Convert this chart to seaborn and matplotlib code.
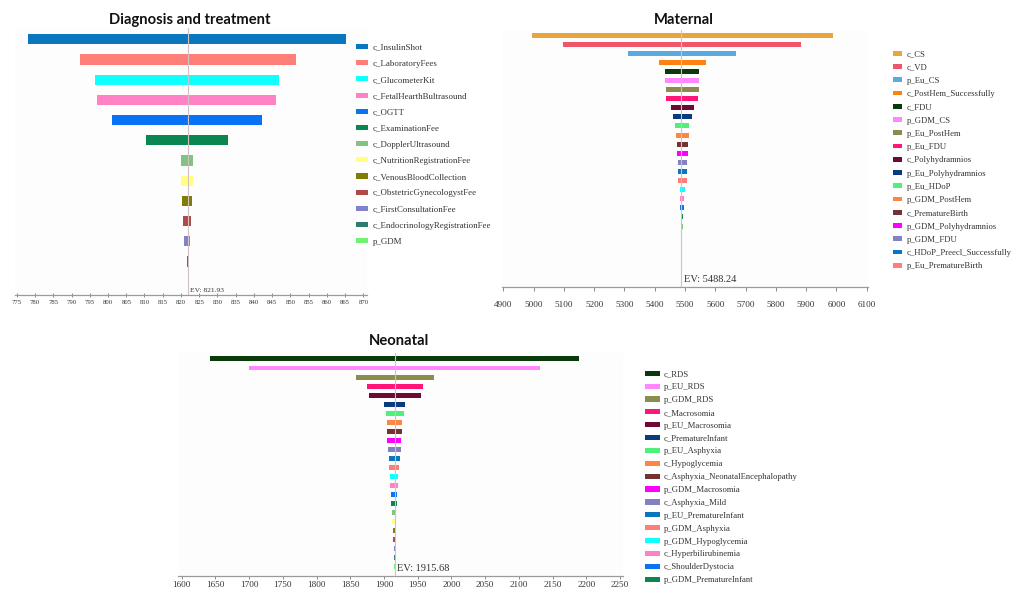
import numpy as np
import pandas as pd
import matplotlib
matplotlib.use("Agg")
import matplotlib.pyplot as plt
from matplotlib.patches import Patch
import seaborn as sns

W, H, DPI = 1027, 590, 100

# Shared tornado colour cycle; each panel starts at its own offset
tornado_colors = [
    "#E9A43C", "#F0566A", "#58AADF", "#FF8210", "#0A3A0A", "#FF88FF",
    "#8C8C4C", "#FF1678", "#6E0A36", "#0A3A80", "#4FF07A", "#FF8642",
    "#743232", "#FF00FF", "#8282C2", "#0A76BE", "#FF7E78", "#10FFFF",
    "#FF82C6", "#0A72F4", "#0A8650", "#82C282", "#FFFF82", "#7E7E06",
    "#B04A4A", "#8282CC", "#2E7A6E", "#72F272",
]

# ---- Diagnosis and treatment ----
dx_names = [
    "c_InsulinShot", "c_LaboratoryFees", "c_GlucometerKit",
    "c_FetalHearthBultrasound", "c_OGTT", "c_ExaminationFee",
    "c_DopplerUltrasound", "c_NutritionRegistrationFee",
    "c_VenousBloodCollection", "c_ObstetricGynecologystFee",
    "c_FirstConsultationFee", "c_EndocrinologyRegistrationFee", "p_GDM",
]
dx_low = [778.2, 792.2, 796.4, 797.1, 801.2, 810.3, 820.0, 820.0, 820.2,
          820.6, 820.8, 821.7, 821.9]
dx_high = [865.2, 851.5, 847.0, 846.0, 842.2, 833.0, 823.2, 823.4, 823.1,
           822.8, 822.6, 822.1, 822.0]
dx_ev = 821.93
dx_ticks = list(range(775, 871, 5))

# ---- Maternal ----
mat_names = [
    "c_CS", "c_VD", "p_Eu_CS", "c_PostHem_Successfully", "c_FDU",
    "p_GDM_CS", "p_Eu_PostHem", "p_Eu_FDU", "c_Polyhydramnios",
    "p_Eu_Polyhydramnios", "p_Eu_HDoP", "p_GDM_PostHem", "c_PrematureBirth",
    "p_GDM_Polyhydramnios", "p_GDM_FDU", "c_HDoP_Preecl_Successfully",
    "p_Eu_PrematureBirth", "p_GDM_PrematureBirth", "c_HDoP", "p_GDM_HDoP",
    "c_PostHem_Unsuccessfully", "c_HDoP_Preecl_Unsuccessfully",
]
mat_low = [4994, 5098, 5313, 5415, 5435, 5435, 5437, 5437, 5453, 5462, 5468,
           5469, 5474, 5475, 5476, 5476, 5477, 5482, 5483, 5485, 5487, 5488]
mat_high = [5988, 5883, 5668, 5568, 5547, 5545, 5545, 5543, 5530, 5522, 5514,
            5513, 5510, 5509, 5508, 5507, 5506, 5500, 5498, 5497, 5494, 5492]
mat_ev = 5488.24
mat_ticks = list(range(4900, 6101, 100))

# ---- Neonatal ----
neo_names = [
    "c_RDS", "p_EU_RDS", "p_GDM_RDS", "c_Macrosomia", "p_EU_Macrosomia",
    "c_PrematureInfant", "p_EU_Asphyxia", "c_Hypoglycemia",
    "c_Asphyxia_NeonatalEncephalopathy", "p_GDM_Macrosomia",
    "c_Asphyxia_Mild", "p_EU_PrematureInfant", "p_GDM_Asphyxia",
    "p_GDM_Hypoglycemia", "c_Hyperbilirubinemia", "c_ShoulderDystocia",
    "p_GDM_PrematureInfant", "p_EU_Hypoglycemia", "p_GDM_Hyperbilirubinemia",
    "p_EU_Hyperbilirubinemia", "p_GDM_ShoulderDystocia",
    "p_EU_ShoulderDystocia", "c_Asphyxia_Severe", "p_GDM",
]
neo_low = [1642, 1700, 1858.5, 1874.3, 1877.3, 1900.4, 1902.5, 1904, 1905,
           1905, 1906, 1907, 1908, 1909, 1909, 1910.5, 1911, 1912, 1912.5,
           1913.5, 1914, 1914.5, 1915, 1915.4]
neo_high = [2189.6, 2131.3, 1974.1, 1958.3, 1955.3, 1931.6, 1929.6, 1927,
            1926, 1925, 1925, 1924, 1922, 1921, 1921, 1919, 1919, 1918, 1918,
            1918.5, 1918, 1917.5, 1916.5, 1916.0]
neo_ev = 1915.68
neo_ticks = list(range(1600, 2251, 50))

sns.set_theme(style="white")
plt.rcParams["font.family"] = ["Liberation Serif", "DejaVu Serif"]

fig = plt.figure(figsize=(W / DPI, H / DPI), dpi=DPI)
fig.patch.set_facecolor("white")


def px_axes(left, top, right, bottom):
    return fig.add_axes([left / W, 1 - bottom / H, (right - left) / W,
                         (bottom - top) / H])


def tornado(ax, names, low, high, colors, ev, xlim, ticks, ylim, bar_h,
            tick_fs, tick_len, tick_pad, tick_dir, ev_fs, ev_off):
    df = pd.DataFrame({"name": names, "low": low, "high": high})
    df["span"] = df["high"] - df["low"]
    # each bar spans low..high: the span is the bar length, low its left edge
    sns.barplot(data=df, x="span", y="name", orient="h", errorbar=None,
                color="#888888", saturation=1,
                left=df["low"].to_numpy(), facecolor=colors,
                edgecolor="none", linewidth=0, width=bar_h, ax=ax)
    ax.axvline(ev, color="#d2c2c2", lw=0.8, zorder=4)
    ax.set_xlim(*xlim)
    ax.set_ylim(*ylim)
    ax.set_xticks(ticks)
    ax.set_xticklabels([str(t) for t in ticks])
    ax.set_xlabel("")
    ax.set_ylabel("")
    ax.set_yticks([])
    ax.tick_params(axis="x", bottom=True, length=tick_len, width=0.7,
                   direction=tick_dir, color="#8a8a8a", pad=tick_pad,
                   labelsize=tick_fs, labelcolor="#333333")
    for s in ("left", "top", "right"):
        ax.spines[s].set_visible(False)
    ax.spines["bottom"].set_color("#9a9a9a")
    ax.spines["bottom"].set_linewidth(0.9)
    ax.set_facecolor("#fdfdfd")
    ax.annotate(f"EV: {ev:.2f}", xy=(ev, 0),
                xycoords=ax.get_xaxis_transform(), xytext=(1.5, ev_off),
                textcoords="offset points", ha="left", va="bottom",
                fontsize=ev_fs, color="#333333")


def legend(names, colors, x, y, fs, hl, hh, sp):
    handles = [Patch(facecolor=c, edgecolor="none") for c in colors]
    fig.legend(handles, names, loc="upper left",
               bbox_to_anchor=(x / W, 1 - y / H), frameon=False,
               fontsize=fs, handlelength=hl, handleheight=hh,
               handletextpad=0.5, labelspacing=sp, borderpad=0,
               borderaxespad=0, labelcolor="#333333")


title_kw = dict(family=["Lato", "DejaVu Sans"], fontweight="bold",
                fontsize=10.6, ha="center", va="center", color="#111111")

# Diagnosis and treatment
dx_colors = tornado_colors[15:15 + len(dx_names)]
ax1 = px_axes(15, 28, 367, 295)
tornado(ax1, dx_names, dx_low, dx_high, dx_colors, dx_ev, (774.5, 871),
        dx_ticks, (12.66, -0.56), 0.5, 4.8, 3, 2, "inout", 5.4, 1.5)
fig.text(190 / W, 1 - 20 / H, "Diagnosis and treatment", **title_kw)
legend(dx_names, dx_colors, 356, 43.7, 6.4, 1.4, 0.5, 0.92)

# Maternal
mat_colors = tornado_colors[0:len(mat_names)]
ax2 = px_axes(501.8, 30, 868.2, 287)
tornado(ax2, mat_names, mat_low, mat_high, mat_colors, mat_ev, (4895, 6105),
        mat_ticks, (27.7, -0.55), 0.55, 6.6, 3, 7, "out", 7.5, 2.5)
fig.text(684 / W, 1 - 20 / H, "Maternal", **title_kw)
legend(mat_names[:17], mat_colors[:17], 893, 50.3, 6.2, 1.1, 0.5, 0.61)

# Neonatal
neo_colors = tornado_colors[4:4 + len(neo_names)]
ax3 = px_axes(178.3, 353, 623.4, 576)
tornado(ax3, neo_names, neo_low, neo_high, neo_colors, neo_ev, (1595, 2255),
        neo_ticks, (24.03, -0.66), 0.55, 6.6, 2, 1.5, "out", 7.5, 2.5)
fig.text(399 / W, 1 - 341 / H, "Neonatal", **title_kw)
legend(neo_names[:17], neo_colors[:17], 645, 370.3, 6.2, 1.7, 0.55, 0.565)

fig.savefig("out.png", dpi=DPI, facecolor="white")
